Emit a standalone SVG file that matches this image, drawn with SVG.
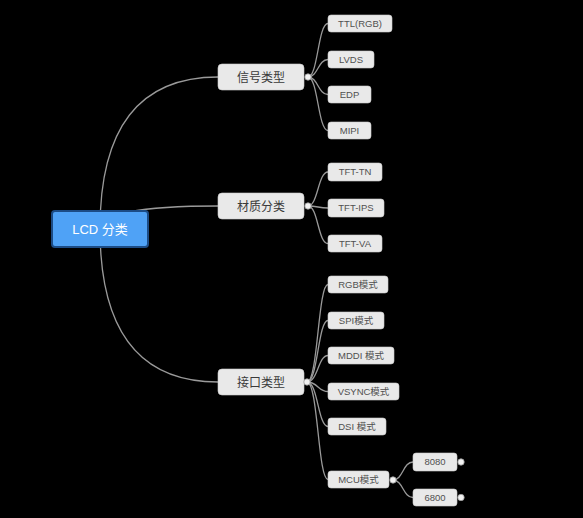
<svg xmlns="http://www.w3.org/2000/svg" width="583" height="518" viewBox="0 0 583 518">
<style>
.bg{fill:#000}
.ln{fill:none;stroke:#9a9a9a;stroke-width:1.3}
.n1 rect{fill:#e9e9e9;stroke:#cfcfcf;stroke-width:0.6}
.n1 text{font-family:"Noto Sans CJK SC","Liberation Sans",sans-serif;font-size:12px;fill:#3a3a3a;text-anchor:middle}
.n2 rect{fill:#e9e9e9;stroke:#cfcfcf;stroke-width:0.6}
.n2 text{font-family:"Liberation Sans","Noto Sans CJK SC",sans-serif;font-size:9.5px;fill:#505050;text-anchor:middle}
.dot{fill:#f2f2f2;stroke:#9a9a9a;stroke-width:0.8}
</style>
<rect class="bg" x="0" y="0" width="583" height="518"/>
<g id="connectors">
<path class="ln" d="M100,229 Q100,77 218,77"/>
<path class="ln" d="M100,229 Q100,206 218,206"/>
<path class="ln" d="M100,229 Q100,382 218,382"/>
<path class="ln" d="M308,77 C318,77 318,23.5 328,23.5"/>
<path class="ln" d="M308,77 C318,77 318,59.5 328,59.5"/>
<path class="ln" d="M308,77 C318,77 318,94.5 328,94.5"/>
<path class="ln" d="M308,77 C318,77 318,130.5 328,130.5"/>
<path class="ln" d="M308,206 C318,206 318,172 328,172"/>
<path class="ln" d="M308,206 C318,206 318,208 328,208"/>
<path class="ln" d="M308,206 C318,206 318,243.5 328,243.5"/>
<path class="ln" d="M307,382 C318,382 318,284.5 328,284.5"/>
<path class="ln" d="M307,382 C318,382 318,320.5 328,320.5"/>
<path class="ln" d="M307,382 C318,382 318,355.5 328,355.5"/>
<path class="ln" d="M307,382 C318,382 318,391.5 328,391.5"/>
<path class="ln" d="M307,382 C318,382 318,426.5 328,426.5"/>
<path class="ln" d="M307,382 C318,382 318,479.5 328,479.5"/>
<path class="ln" d="M393,480 C403,480 403,462 413,462"/>
<path class="ln" d="M393,480 C403,480 403,497.5 413,497.5"/>
</g>
<g id="root">
<rect x="52" y="211" width="96" height="36" rx="3" fill="#4fa2f6" stroke="#1c4c86" stroke-width="2"/>
<text x="100" y="233.5" font-family="Liberation Sans,Noto Sans CJK SC,sans-serif" font-size="13" fill="#fff" text-anchor="middle">LCD 分类</text>
</g>
<g id="xinhao" class="n1"><rect x="218" y="64" width="86" height="26" rx="4"/><text x="261" y="81.5">信号类型</text><circle class="dot" cx="308" cy="77" r="3.2"/></g>
<g id="caizhi" class="n1"><rect x="218" y="193" width="86" height="26" rx="4"/><text x="261" y="210.5">材质分类</text><circle class="dot" cx="308" cy="206" r="3.2"/></g>
<g id="jiekou" class="n1"><rect x="218" y="369" width="86" height="26" rx="4"/><text x="261" y="386.5">接口类型</text><circle class="dot" cx="307" cy="382" r="3.2"/></g>
<g id="ttl" class="n2"><rect x="328" y="15" width="64" height="17" rx="3"/><text x="360" y="26.8">TTL(RGB)</text></g>
<g id="lvds" class="n2"><rect x="328" y="51" width="46" height="17" rx="3"/><text x="351" y="62.8">LVDS</text></g>
<g id="edp" class="n2"><rect x="328" y="86" width="43" height="17" rx="3"/><text x="349.5" y="97.8">EDP</text></g>
<g id="mipi" class="n2"><rect x="328" y="122" width="43" height="17" rx="3"/><text x="349.5" y="133.8">MIPI</text></g>
<g id="tfttn" class="n2"><rect x="328" y="163" width="54" height="18" rx="3"/><text x="355" y="175.3">TFT-TN</text></g>
<g id="tftips" class="n2"><rect x="328" y="199" width="56" height="18" rx="3"/><text x="356" y="211.3">TFT-IPS</text></g>
<g id="tftva" class="n2"><rect x="328" y="235" width="54" height="17" rx="3"/><text x="355" y="246.8">TFT-VA</text></g>
<g id="rgb" class="n2"><rect x="328" y="276" width="60" height="17" rx="3"/><text x="358" y="287.8">RGB模式</text></g>
<g id="spi" class="n2"><rect x="328" y="312" width="56" height="17" rx="3"/><text x="356" y="323.8">SPI模式</text></g>
<g id="mddi" class="n2"><rect x="328" y="347" width="66" height="17" rx="3"/><text x="361" y="358.8">MDDI 模式</text></g>
<g id="vsync" class="n2"><rect x="328" y="383" width="71" height="17" rx="3"/><text x="363.5" y="394.8">VSYNC模式</text></g>
<g id="dsi" class="n2"><rect x="328" y="418" width="58" height="17" rx="3"/><text x="357" y="429.8">DSI 模式</text></g>
<g id="mcu" class="n2"><rect x="328" y="471" width="61" height="17" rx="3"/><text x="358.5" y="482.8">MCU模式</text><circle class="dot" cx="393" cy="480" r="3.2"/></g>
<g id="n8080" class="n2"><rect x="413" y="453" width="44" height="18" rx="3"/><text x="435" y="465.3">8080</text><circle class="dot" cx="461" cy="462" r="3.2"/></g>
<g id="n6800" class="n2"><rect x="413" y="489" width="44" height="17" rx="3"/><text x="435" y="500.8">6800</text><circle class="dot" cx="461" cy="497.5" r="3.2"/></g>
</svg>
